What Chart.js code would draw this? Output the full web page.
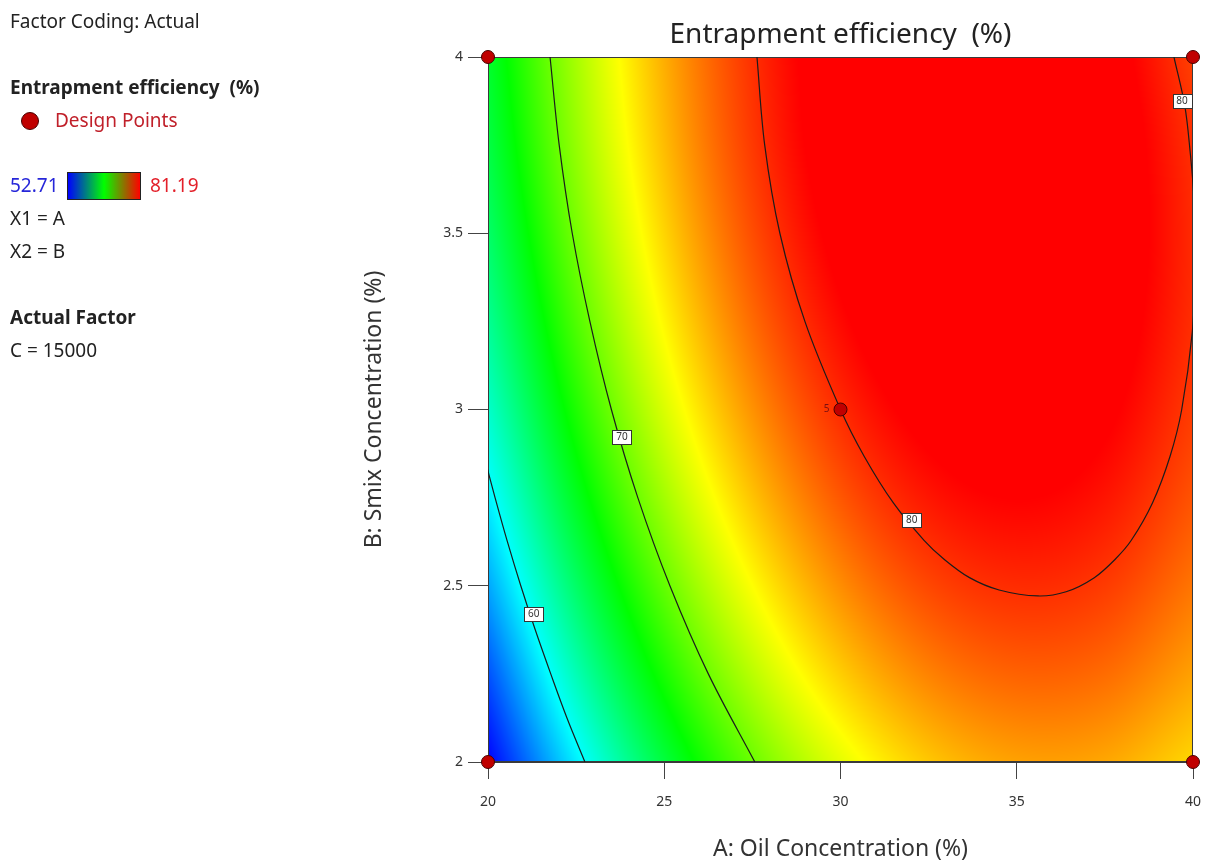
<!DOCTYPE html>
<html>
<head>
<meta charset="utf-8">
<title>Entrapment efficiency (%)</title>
<script src="https://cdn.jsdelivr.net/npm/chart.js@4.4.1/dist/chart.umd.min.js"></script>
<style>
  html, body { margin: 0; padding: 0; background: #ffffff; }
  #wrap { position: relative; width: 1207px; height: 863px; overflow: hidden; }
  #plot { position: absolute; left: 0; top: 0; }
  .side { position: absolute; left: 10px; font-family: "Noto Sans", "Open Sans", sans-serif;
          font-size: 19px; line-height: 22px; color: #222; white-space: nowrap; }
  .bold { font-weight: bold; }
  .dot { position: absolute; left: 21px; top: 112px; width: 18px; height: 18px; border-radius: 50%;
         background: #c00000; border: 1px solid #4a0000; box-sizing: border-box; }
  .bar { position: absolute; left: 67px; top: 172px; width: 74px; height: 28px; box-sizing: border-box;
         border: 1px solid #222; background: linear-gradient(to right, #0000ff, #00ff00, #ff0000); }
</style>
</head>
<body>
<div id="wrap">
  <canvas id="plot" width="1207" height="863"></canvas>
  <div class="side" style="top:10px;">Factor Coding: Actual</div>
  <div class="side bold" style="top:76px;">Entrapment efficiency&nbsp;&nbsp;(%)</div>
  <div class="dot"></div>
  <div class="side" style="top:109px; left:55px; color:#c0202a;">Design Points</div>
  <div class="side" id="minLabel" style="top:174px; color:#2626d9;"></div>
  <div class="bar"></div>
  <div class="side" id="maxLabel" style="top:174px; left:150px; color:#e3202a;"></div>
  <div class="side" style="top:207px;">X1 = A</div>
  <div class="side" style="top:240px;">X2 = B</div>
  <div class="side bold" style="top:306px;">Actual Factor</div>
  <div class="side" style="top:339px;">C = 15000</div>
</div>
<script>
// ---- Factor levels of the response grid ----
const oilLevels  = [20, 22.5, 25, 27.5, 30, 32.5, 35, 37.5, 40];          // A: Oil Concentration (%)
const smixLevels = [2, 2.25, 2.5, 2.75, 3, 3.25, 3.5, 3.75, 4];          // B: Smix Concentration (%)

// ---- Entrapment efficiency (%) at each oil level, one row per Smix level ----
const eeSmix200 = [52.71, 59.36, 65.23, 69.89, 73.35, 75.61, 76.67, 76.52, 75.18];
const eeSmix225 = [54.96, 61.88, 67.60, 72.12, 75.43, 77.55, 78.46, 78.18, 76.69];
const eeSmix250 = [57.34, 64.11, 69.69, 74.06, 77.24, 79.21, 79.98, 79.55, 77.92];
const eeSmix275 = [59.43, 66.07, 71.50, 75.73, 78.76, 80.59, 81.21, 80.64, 78.87];
const eeSmix300 = [61.25, 67.74, 73.03, 77.11, 80.00, 81.68, 82.17, 81.45, 79.53];
const eeSmix325 = [62.79, 69.13, 74.28, 78.22, 80.96, 82.50, 82.84, 81.98, 79.92];
const eeSmix350 = [64.04, 70.24, 75.24, 79.04, 81.64, 83.04, 83.23, 82.23, 80.02];
const eeSmix375 = [65.01, 71.07, 75.93, 79.59, 82.04, 83.29, 83.35, 82.20, 79.85];
const eeSmix400 = [65.71, 71.62, 76.34, 79.85, 82.16, 83.27, 83.18, 81.89, 79.39];

// ---- Colour legend range ----
const colourMin = 52.71;
const colourMax = 81.19;

// ---- Axis ticks ----
const oilTicks  = [20, 25, 30, 35, 40];
const smixTicks = [2, 2.5, 3, 3.5, 4];

// ---- Contour lines ----
const contour60Oil  = [19.94, 20.20, 20.55, 20.93, 21.34, 21.78, 22.24, 22.75];
const contour60Smix = [2.848, 2.75, 2.625, 2.5, 2.375, 2.25, 2.125, 2.0];
const contour70Oil  = [21.76, 22.02, 22.39, 22.89, 23.50, 24.25, 25.16, 26.25, 27.57];
const contour70Smix = [4.0, 3.75, 3.5, 3.25, 3.0, 2.75, 2.5, 2.25, 2.0];
const contour80Oil  = [27.63, 27.85, 28.28, 28.99, 30.0, 30.67, 31.50, 32.37, 32.93, 33.66, 34.5, 35.6,
                       36.4, 37.2, 37.8, 38.25, 38.85, 39.35, 39.68, 39.98, 40.08, 40.06, 40.0, 39.93, 39.77, 39.46];
const contour80Smix = [4.0, 3.75, 3.5, 3.25, 3.0, 2.8675, 2.735, 2.629, 2.576, 2.523, 2.488, 2.471,
                       2.483, 2.523, 2.576, 2.629, 2.735, 2.8675, 3.0, 3.22, 3.42, 3.55, 3.64, 3.72, 3.86, 4.0];

// ---- Contour labels ----
const labelLevels = [60, 70, 80, 80];
const labelOil    = [21.30, 23.80, 32.02, 39.69];
const labelSmix   = [2.42, 2.922, 2.687, 3.875];

// ---- Design points (replicate count shown when > 1) ----
const designOil  = [20, 20, 40, 40, 30];
const designSmix = [2, 4, 2, 4, 3];
const designReps = [1, 1, 1, 1, 5];

const efficiencyRows = [eeSmix200, eeSmix225, eeSmix250, eeSmix275, eeSmix300,
                        eeSmix325, eeSmix350, eeSmix375, eeSmix400];

document.getElementById('minLabel').textContent = colourMin.toFixed(2);
document.getElementById('maxLabel').textContent = colourMax.toFixed(2);

const FONT = '"Noto Sans", "Open Sans", sans-serif';

// Grid lookup with linear extension beyond the edges (for the smooth interpolation kernel)
function gridValue(i, j) {
  const nI = oilLevels.length, nJ = smixLevels.length;
  function rowVal(row, k) {
    if (k < 0) return 2 * row[0] - row[1];
    if (k > nI - 1) return 2 * row[nI - 1] - row[nI - 2];
    return row[k];
  }
  if (j < 0) return 2 * rowVal(efficiencyRows[0], i) - rowVal(efficiencyRows[1], i);
  if (j > nJ - 1) return 2 * rowVal(efficiencyRows[nJ - 1], i) - rowVal(efficiencyRows[nJ - 2], i);
  return rowVal(efficiencyRows[j], i);
}
function catmull(p0, p1, p2, p3, t) {
  return p1 + 0.5 * t * (p2 - p0 + t * (2 * p0 - 5 * p1 + 4 * p2 - p3 + t * (3 * (p1 - p2) + p3 - p0)));
}
function surfaceAt(a, b) {
  const da = oilLevels[1] - oilLevels[0], db = smixLevels[1] - smixLevels[0];
  let fi = (a - oilLevels[0]) / da, fj = (b - smixLevels[0]) / db;
  fi = Math.max(0, Math.min(oilLevels.length - 1.000001, fi));
  fj = Math.max(0, Math.min(smixLevels.length - 1.000001, fj));
  const i = Math.floor(fi), j = Math.floor(fj);
  const ti = fi - i, tj = fj - j;
  const col = [];
  for (let m = -1; m <= 2; m++) {
    col.push(catmull(gridValue(i - 1, j + m), gridValue(i, j + m), gridValue(i + 1, j + m), gridValue(i + 2, j + m), ti));
  }
  return catmull(col[0], col[1], col[2], col[3], tj);
}
const colourStops = [[0, 0, 255], [0, 255, 255], [0, 255, 0], [255, 255, 0], [255, 0, 0]];
function colourFor(v) {
  let t = (v - colourMin) / (colourMax - colourMin);
  t = Math.max(0, Math.min(1, t));
  const s = t * (colourStops.length - 1);
  const k = Math.min(colourStops.length - 2, Math.floor(s));
  const f = s - k;
  const c0 = colourStops[k], c1 = colourStops[k + 1];
  return [c0[0] + (c1[0] - c0[0]) * f, c0[1] + (c1[1] - c0[1]) * f, c0[2] + (c1[2] - c0[2]) * f];
}

// Filled response surface painted behind the datasets
const surfacePlugin = {
  id: 'surface',
  beforeDatasetsDraw(chart) {
    const { ctx, chartArea, scales } = chart;
    const x = scales.x, y = scales.y;
    const w = Math.round(chartArea.right - chartArea.left);
    const h = Math.round(chartArea.bottom - chartArea.top);
    const off = document.createElement('canvas');
    off.width = w; off.height = h;
    const octx = off.getContext('2d');
    const img = octx.createImageData(w, h);
    const aCols = [];
    for (let px = 0; px < w; px++) aCols.push(x.getValueForPixel(chartArea.left + px + 0.5));
    for (let py = 0; py < h; py++) {
      const b = y.getValueForPixel(chartArea.top + py + 0.5);
      for (let px = 0; px < w; px++) {
        const c = colourFor(surfaceAt(aCols[px], b));
        const o = (py * w + px) * 4;
        img.data[o] = c[0]; img.data[o + 1] = c[1]; img.data[o + 2] = c[2]; img.data[o + 3] = 255;
      }
    }
    octx.putImageData(img, 0, 0);
    ctx.save();
    ctx.drawImage(off, chartArea.left, chartArea.top);
    ctx.strokeStyle = '#3a3a3a';
    ctx.lineWidth = 1;
    ctx.strokeRect(chartArea.left + 0.5, chartArea.top + 0.5, w - 1, h - 1);
    ctx.restore();
  }
};

// Contour value boxes and replicate counts
const annotationPlugin = {
  id: 'annotations',
  afterDatasetsDraw(chart) {
    const { ctx, scales } = chart;
    ctx.save();
    ctx.font = '10px ' + FONT;
    ctx.textAlign = 'center';
    ctx.textBaseline = 'middle';
    labelLevels.forEach((lvl, k) => {
      const cx = scales.x.getPixelForValue(labelOil[k]);
      const cy = scales.y.getPixelForValue(labelSmix[k]);
      const txt = String(lvl);
      const bw = Math.round(ctx.measureText(txt).width + 8), bh = 14;
      const bx = Math.round(cx - bw / 2) + 0.5, by = Math.round(cy - bh / 2) + 0.5;
      ctx.fillStyle = '#ffffff';
      ctx.fillRect(bx, by, bw, bh);
      ctx.strokeStyle = '#333333';
      ctx.lineWidth = 1;
      ctx.strokeRect(bx, by, bw, bh);
      ctx.fillStyle = '#333333';
      ctx.fillText(txt, cx, cy + 0.5);
    });
    ctx.font = '10px ' + FONT;
    ctx.fillStyle = '#7a1010';
    ctx.textAlign = 'right';
    designReps.forEach((r, k) => {
      if (r > 1) {
        const cx = scales.x.getPixelForValue(designOil[k]);
        const cy = scales.y.getPixelForValue(designSmix[k]);
        ctx.fillText(String(r), cx - 11, cy);
      }
    });
    ctx.restore();
  }
};

function toPoints(xs, ys) { return xs.map((v, k) => ({ x: v, y: ys[k] })); }
function contourSet(xs, ys) {
  return {
    type: 'line',
    data: toPoints(xs, ys),
    borderColor: '#1c1c1c',
    borderWidth: 1.2,
    pointRadius: 0,
    tension: 0.35,
    fill: false,
    order: 2
  };
}

new Chart(document.getElementById('plot'), {
  type: 'scatter',
  data: {
    datasets: [
      {
        label: 'Design Points',
        data: toPoints(designOil, designSmix),
        pointRadius: 6.5,
        pointBackgroundColor: '#c00000',
        pointBorderColor: '#4a0000',
        pointBorderWidth: 1,
        clip: false,
        order: 0
      },
      contourSet(contour60Oil, contour60Smix),
      contourSet(contour70Oil, contour70Smix),
      contourSet(contour80Oil, contour80Smix)
    ]
  },
  options: {
    responsive: false,
    animation: false,
    events: [],
    layout: { padding: { left: 355, right: 14, top: 0, bottom: 0 } },
    plugins: {
      legend: { display: false },
      tooltip: { enabled: false },
      title: {
        display: true,
        fullSize: false,
        text: 'Entrapment efficiency  (%)',
        color: '#222222',
        font: { family: FONT, size: 28, weight: 'normal' },
        padding: { top: 18, bottom: 5.4 }
      }
    },
    scales: {
      x: {
        type: 'linear',
        min: oilLevels[0],
        max: oilLevels[oilLevels.length - 1],
        afterBuildTicks: s => { s.ticks = oilTicks.map(v => ({ value: v })); },
        afterFit: s => { s.height = 101; s.paddingLeft = 0; s.paddingRight = 0; },
        grid: { drawOnChartArea: false, drawTicks: true, tickLength: 17, color: '#444444', tickColor: '#444444' },
        border: { display: true, color: '#3a3a3a' },
        ticks: { color: '#333333', padding: 15, font: { family: FONT, size: 14 }, maxRotation: 0,
                 callback: v => String(v) },
        title: {
          display: true,
          text: 'A: Oil Concentration (%)',
          color: '#333333',
          font: { family: FONT, size: 23 },
          padding: { top: 0, bottom: 0 }
        }
      },
      y: {
        type: 'linear',
        min: smixLevels[0],
        max: smixLevels[smixLevels.length - 1],
        afterBuildTicks: s => { s.ticks = smixTicks.map(v => ({ value: v })); },
        afterFit: s => { s.width = 133; s.paddingTop = 0; s.paddingBottom = 0; },
        grid: { drawOnChartArea: false, drawTicks: true, tickLength: 20, color: '#444444', tickColor: '#444444' },
        border: { display: true, color: '#3a3a3a' },
        ticks: { color: '#333333', padding: 5, font: { family: FONT, size: 14 },
                 callback: v => String(v) },
        title: {
          display: true,
          text: 'B: Smix Concentration (%)',
          color: '#333333',
          font: { family: FONT, size: 23 },
          padding: { top: 6, bottom: 0 }
        }
      }
    }
  },
  plugins: [surfacePlugin, annotationPlugin]
});
</script>
</body>
</html>
